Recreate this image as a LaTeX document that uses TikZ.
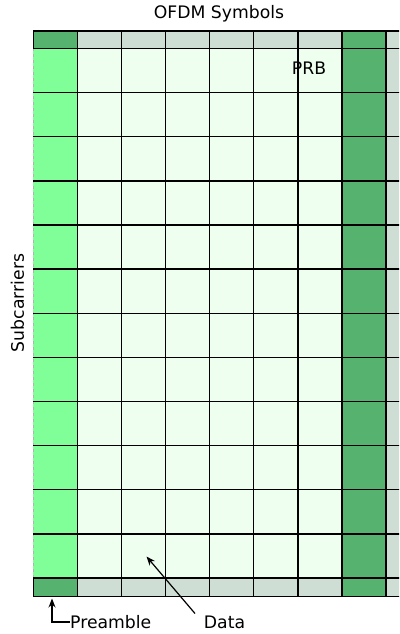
\documentclass[tikz,border=0pt]{standalone}
\usepackage{fontspec}
\setmainfont{DejaVu Sans}
\usetikzlibrary{arrows.meta}
\definecolor{prea}{HTML}{80FF99}
\definecolor{dk}{HTML}{56B26F}
\definecolor{gr}{HTML}{CFDED4}
\definecolor{dat}{HTML}{EEFFF0}
\begin{document}
\begin{tikzpicture}[x=1bp,y=-1bp,
  gridline/.style={draw=black,line width=1.3bp},
  lbl/.style={font=\fontsize{17.3}{20}\selectfont,inner sep=0pt},
  arr/.style={line width=1.2bp,-{Stealth[length=9bp,width=7bp]}}]
\useasboundingbox (0,0) rectangle (399,634);
\begin{scope}
\clip (0,0) rectangle (399,634);
% column fills
\foreach \k in {0,...,8}{
  \pgfmathsetmacro{\xa}{33.3+44.1*\k}
  \pgfmathsetmacro{\xb}{33.3+44.1*(\k+1)}
  \ifnum\k=0
    \fill[dk] (\xa,31) rectangle (\xb,48.5);
    \fill[prea] (\xa,48.5) rectangle (\xb,578);
    \fill[dk] (\xa,578) rectangle (\xb,596.5);
  \else\ifnum\k=7
    \fill[dk] (\xa,31) rectangle (\xb,596.5);
  \else\ifnum\k=8
    \fill[gr] (\xa,31) rectangle (\xb,596.5);
  \else
    \fill[gr] (\xa,31) rectangle (\xb,48.5);
    \fill[dat] (\xa,48.5) rectangle (\xb,578);
    \fill[gr] (\xa,578) rectangle (\xb,596.5);
  \fi\fi\fi
}
\node[lbl] (prb) at (309,68.5) {PRB};
% vertical lines
\foreach \k in {1,...,8}{
  \draw[gridline] ({33.3+44.1*\k},31) -- ({33.3+44.1*\k},596.5);
}
\draw[gridline] (33.3,31) -- (33.3,48.5);
\draw[gridline] (33.3,578) -- (33.3,596.5);
\draw[gray!60,line width=0.8bp,dashed] (33.3,48.5) -- (33.3,578);
% horizontal lines
\draw[gridline] (33.3,31) -- (420,31);
\draw[gridline] (33.3,596.5) -- (420,596.5);
\foreach \j in {0,...,12}{
  \draw[gridline] (33.3,{48.5+44.125*\j}) -- (420,{48.5+44.125*\j});
}
\end{scope}
% labels
\node[lbl] (title) at (219,14) {OFDM Symbols};
\node[lbl,rotate=90] (sub) at (17.5,303) {Subcarriers};
\node[lbl,anchor=west] (pre) at (70,622) {Preamble};
\node[lbl] (data) at (224.5,622) {Data};
% arrows
\coordinate (pretip) at (52,598.5);
\coordinate (datatail) at (195,613.5);
\coordinate (datatip) at (146.5,556.5);
\draw[arr] (pre.west) -| (pretip);
\draw[arr] (datatail) -- (datatip);
\end{tikzpicture}
\end{document}
